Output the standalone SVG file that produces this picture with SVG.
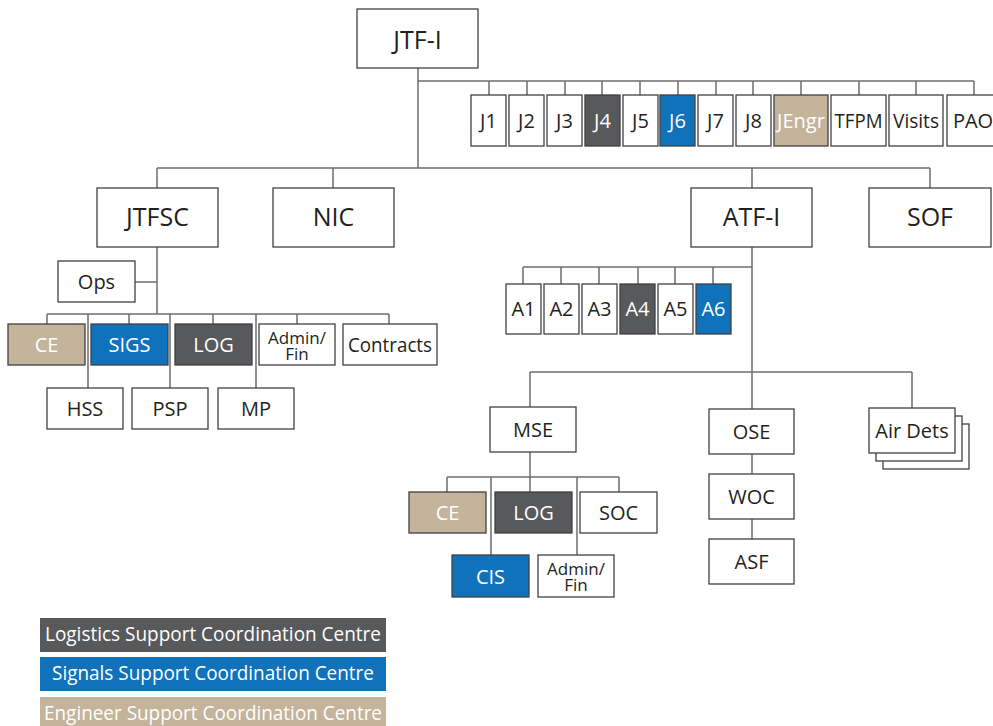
<svg xmlns="http://www.w3.org/2000/svg" width="993" height="726" viewBox="0 0 993 726">
<style>
.b{fill:#fff;stroke:#414042;stroke-width:1.3}
.dk{fill:#58595b;stroke:#414042;stroke-width:1.3}
.bl{fill:#1072ba;stroke:#414042;stroke-width:1.3}
.tn{fill:#c3b49b;stroke:#414042;stroke-width:1.3}
text{font-family:"Open Sans","Liberation Sans",sans-serif;text-anchor:middle;fill:#231f20;font-size:20px}
.w{fill:#fff}
.big{font-size:25px}
.sm{font-size:17px}
.conn path{stroke:#6d6e71;stroke-width:1.5;fill:none}
</style>
<g class="conn" id="connectors">
<path d="M418 68V168M157 168H930M157 168V188M333 168V188M752 168V188M930 168V188"/>
<path d="M418 81H974M489 81V95M527 81V95M565 81V95M602 81V95M640 81V95M678 81V95M716 81V95M753 81V95M801 81V95M859 81V95M916 81V95M974 81V95"/>
<path d="M157 247V314M135 282H157M47 314H389M47 314V324M129 314V324M213 314V324M297 314V324M389 314V324M88 314V388M170 314V388M256 314V388"/>
<path d="M752 247V409M523 267H752M523 267V284M561 267V284M599 267V284M638 267V284M675 267V284M713 267V284"/>
<path d="M530 372H912M530 372V407M912 372V408M530 452V492M447 477H619M447 477V492M619 477V492M491 477V555M577 477V555"/>
<path d="M752 454V474M752 519V539"/>
</g>
<g id="jtfi"><rect class="b" x="357" y="9" width="121" height="59"/><text class="big" x="417.5" y="49">JTF-I</text></g>
<g id="j1"><rect class="b" x="471" y="95" width="35" height="51"/><text x="488.5" y="127.5">J1</text></g>
<g id="j2"><rect class="b" x="509" y="95" width="35" height="51"/><text x="526.5" y="127.5">J2</text></g>
<g id="j3"><rect class="b" x="547" y="95" width="35" height="51"/><text x="564.5" y="127.5">J3</text></g>
<g id="j4"><rect class="dk" x="585" y="95" width="35" height="51"/><text class="w" x="602.5" y="127.5">J4</text></g>
<g id="j5"><rect class="b" x="623" y="95" width="35" height="51"/><text x="640.5" y="127.5">J5</text></g>
<g id="j6"><rect class="bl" x="660" y="95" width="35" height="51"/><text class="w" x="677.5" y="127.5">J6</text></g>
<g id="j7"><rect class="b" x="698" y="95" width="35" height="51"/><text x="715.5" y="127.5">J7</text></g>
<g id="j8"><rect class="b" x="736" y="95" width="35" height="51"/><text x="753.5" y="127.5">J8</text></g>
<g id="jengr"><rect class="tn" x="774" y="95" width="54" height="51"/><text class="w" x="801" y="127.5">JEngr</text></g>
<g id="tfpm"><rect class="b" x="831" y="95" width="55" height="51"/><text x="858.5" y="127.5" textLength="48" lengthAdjust="spacingAndGlyphs">TFPM</text></g>
<g id="visits"><rect class="b" x="889" y="95" width="54" height="51"/><text x="916" y="127.5" textLength="46" lengthAdjust="spacingAndGlyphs">Visits</text></g>
<g id="pao"><rect class="b" x="947" y="95" width="54" height="51"/><text x="973" y="127.5">PAO</text></g>
<g id="jtfsc"><rect class="b" x="97" y="188" width="121" height="59"/><text class="big" x="157.5" y="226">JTFSC</text></g>
<g id="nic"><rect class="b" x="273" y="188" width="121" height="59"/><text class="big" x="333.5" y="226">NIC</text></g>
<g id="atfi"><rect class="b" x="691" y="188" width="121" height="59"/><text class="big" x="751.5" y="226">ATF-I</text></g>
<g id="sof"><rect class="b" x="869" y="188" width="122" height="59"/><text class="big" x="930" y="226">SOF</text></g>
<g id="ops"><rect class="b" x="58" y="261" width="77" height="41"/><text x="96.5" y="289">Ops</text></g>
<g id="ce1"><rect class="tn" x="8" y="324" width="77" height="41"/><text class="w" x="46.5" y="352">CE</text></g>
<g id="sigs"><rect class="bl" x="91" y="324" width="77" height="41"/><text class="w" x="129.5" y="352">SIGS</text></g>
<g id="log1"><rect class="dk" x="175" y="324" width="77" height="41"/><text class="w" x="213.5" y="352">LOG</text></g>
<g id="adminfin1"><rect class="b" x="259" y="324" width="76" height="41"/><text class="sm" x="297" y="344">Admin/<tspan x="297" dy="16">Fin</tspan></text></g>
<g id="contracts"><rect class="b" x="343" y="324" width="94" height="41"/><text x="390" y="352" textLength="84" lengthAdjust="spacingAndGlyphs">Contracts</text></g>
<g id="hss"><rect class="b" x="47" y="388" width="76" height="41"/><text x="85" y="416">HSS</text></g>
<g id="psp"><rect class="b" x="132" y="388" width="76" height="41"/><text x="170" y="416">PSP</text></g>
<g id="mp"><rect class="b" x="218" y="388" width="76" height="41"/><text x="256" y="416">MP</text></g>
<g id="a1"><rect class="b" x="506" y="284" width="35" height="50"/><text x="523.5" y="316">A1</text></g>
<g id="a2"><rect class="b" x="544" y="284" width="35" height="50"/><text x="561.5" y="316">A2</text></g>
<g id="a3"><rect class="b" x="582" y="284" width="35" height="50"/><text x="599.5" y="316">A3</text></g>
<g id="a4"><rect class="dk" x="620" y="284" width="35" height="50"/><text class="w" x="637.5" y="316">A4</text></g>
<g id="a5"><rect class="b" x="658" y="284" width="35" height="50"/><text x="675.5" y="316">A5</text></g>
<g id="a6"><rect class="bl" x="696" y="284" width="35" height="50"/><text class="w" x="713.5" y="316">A6</text></g>
<g id="mse"><rect class="b" x="490" y="407" width="86" height="45"/><text x="533" y="437">MSE</text></g>
<g id="ce2"><rect class="tn" x="409" y="492" width="77" height="41"/><text class="w" x="447.5" y="520">CE</text></g>
<g id="log2"><rect class="dk" x="495" y="492" width="77" height="41"/><text class="w" x="533.5" y="520">LOG</text></g>
<g id="soc"><rect class="b" x="580" y="492" width="77" height="41"/><text x="618.5" y="520">SOC</text></g>
<g id="cis"><rect class="bl" x="452" y="555" width="77" height="42"/><text class="w" x="490.5" y="583.5">CIS</text></g>
<g id="adminfin2"><rect class="b" x="538" y="555" width="76" height="42"/><text class="sm" x="576" y="575">Admin/<tspan x="576" dy="16">Fin</tspan></text></g>
<g id="ose"><rect class="b" x="709" y="409" width="85" height="45"/><text x="751.5" y="439">OSE</text></g>
<g id="woc"><rect class="b" x="709" y="474" width="85" height="45"/><text x="751.5" y="504">WOC</text></g>
<g id="asf"><rect class="b" x="709" y="539" width="85" height="45"/><text x="751.5" y="569">ASF</text></g>
<g id="airdets"><rect class="b" x="883" y="424" width="86" height="45"/><rect class="b" x="876" y="416" width="86" height="45"/><rect class="b" x="869" y="408" width="86" height="45"/><text x="912" y="438">Air Dets</text></g>
<g id="legend">
<rect x="40" y="618" width="346" height="34" fill="#58595b"/><text class="w" x="213" y="641" font-size="19" textLength="336" lengthAdjust="spacingAndGlyphs">Logistics Support Coordination Centre</text>
<rect x="40" y="657" width="346" height="34" fill="#1072ba"/><text class="w" x="213" y="680" font-size="19" textLength="322" lengthAdjust="spacingAndGlyphs">Signals Support Coordination Centre</text>
<rect x="40" y="697" width="346" height="34" fill="#c3b49b"/><text class="w" x="213" y="720" font-size="19" textLength="338" lengthAdjust="spacingAndGlyphs">Engineer Support Coordination Centre</text>
</g>
</svg>
